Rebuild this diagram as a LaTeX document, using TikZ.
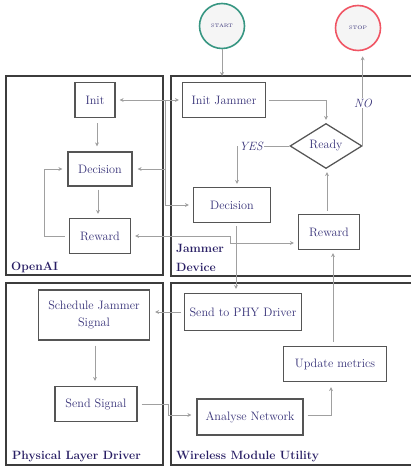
\documentclass[tikz,border=0pt]{standalone}
\usetikzlibrary{shapes.geometric,arrows.meta}
\definecolor{boxc}{RGB}{85,85,85}
\definecolor{framec}{RGB}{60,60,60}
\definecolor{linec}{RGB}{160,160,160}
\definecolor{txt}{RGB}{55,50,120}
\definecolor{lblc}{RGB}{40,30,100}
\definecolor{startc}{RGB}{55,150,130}
\definecolor{stopc}{RGB}{240,85,100}
\definecolor{circfill}{RGB}{245,245,245}
\begin{document}
\begin{tikzpicture}[x=1pt,y=-1pt,
  box/.style={draw=boxc, line width=1.25pt, minimum height=35pt, text=txt,
    font=\fontsize{12.2}{14}\selectfont, inner sep=0pt, align=center},
  frame/.style={draw=framec, line width=1.6pt},
  conn/.style={draw=linec, line width=0.9pt, -{Stealth[length=4pt,width=4pt]}},
  both/.style={{Stealth[length=4pt,width=4pt]}-{Stealth[length=4pt,width=4pt]}},
  term/.style={circle, line width=1.6pt, fill=circfill, minimum size=45pt, inner sep=0pt,
    text=txt, font=\fontsize{5}{6}\selectfont},
  grp/.style={anchor=base west, text=lblc, font=\fontsize{12}{14}\selectfont\bfseries, inner sep=0pt},
  cond/.style={fill=white, inner sep=1pt, text=txt, font=\fontsize{12}{14}\selectfont\itshape}
]
\useasboundingbox (0,0) rectangle (411,470);

% frames
\draw[frame] (6,76) rectangle (163,275);
\draw[frame] (171,76) rectangle (425,276);
\draw[frame] (6,283) rectangle (163,465);
\draw[frame] (171,283) rectangle (425,465);

\node[grp] (lOpen) at (11,270) {OpenAI};
\node[grp] (lJam) at (176,252) {Jammer};
\node[grp] (lDev) at (176,271) {Device};
\node[grp] (lPhy) at (12,459) {Physical Layer Driver};
\node[grp] (lWir) at (176,459) {Wireless Module Utility};

% terminals
\node[term, draw=startc] (START) at (222,26) {START};
\node[term, draw=stopc] (STOP) at (358,28) {STOP};

% boxes
\node[box, minimum width=40pt] (Init) at (95,100) {Init};
\node[box, minimum width=83pt] (InitJ) at (224,100) {Init Jammer};
\node[box, shape=diamond, aspect=1.6, minimum width=72pt, minimum height=45pt] (Ready) at (326,146) {Ready};
\node[box, minimum width=64pt, minimum height=34pt] (DecO) at (100,169) {Decision};
\node[box, minimum width=61pt] (RewO) at (100,236) {Reward};
\node[box, minimum width=77pt] (DecJ) at (232,205) {Decision};
\node[box, minimum width=61pt] (RewJ) at (329,232) {Reward};
\node[box, minimum width=111pt, minimum height=50pt] (Sched) at (94,315) {Schedule Jammer\\[3pt]Signal};
\node[box, minimum width=82pt] (SendSig) at (96,404) {Send Signal};
\node[box, minimum width=117pt, minimum height=37pt] (SendPHY) at (243,312) {Send to PHY Driver};
\node[box, minimum width=103pt] (Update) at (335,364) {Update metrics};
\node[box, minimum width=106pt, minimum height=36pt] (Analyse) at (250,417) {Analyse Network};

\coordinate (jtop) at (222,76);
\coordinate (jx) at (165,100);

% connectors
\draw[conn] (START.south) -- (jtop);
\draw[conn, both, shorten <=4pt, shorten >=3pt] (Init.east) -- (InitJ.west);
\draw[draw=linec, line width=0.9pt] (jx) -- (jx |- DecO.east);
\draw[conn, shorten >=5pt] (jx |- DecO.east) -- (DecO.east);
\draw[conn, shorten >=4pt] (jx |- DecO.east) |- (DecJ.west);
\draw[conn, shorten <=5pt, shorten >=5pt] ([xshift=2pt]Init.south) -- ([xshift=2pt]Init.south |- DecO.north);
\draw[conn, shorten <=3pt, shorten >=4pt] ([xshift=-2pt]DecO.south) -- ([xshift=-2pt]DecO.south |- RewO.north);
\draw[conn, shorten <=4pt, shorten >=5pt] (RewO.west) -- ++(-24.5,0) |- (DecO.west);
\draw[conn, shorten <=3pt, shorten >=3pt] (InitJ.east) -| (Ready.north);
\draw[conn, shorten >=5pt] (Ready.east) -- (Ready.east |- STOP.south);
\node[cond] (NO) at (363,103) {NO};
\draw[conn, shorten >=3pt] (Ready.west) -| ([xshift=5pt]DecJ.north);
\node[cond] (YES) at (251,146) {YES};
\draw[conn, shorten <=3pt, shorten >=3pt] ([xshift=-2pt]RewJ.north) -- ([xshift=-2pt]RewJ.north |- Ready.south);
\draw[conn, both, shorten <=4pt, shorten >=4pt] (RewO.east) -- (230,236) |- ([yshift=-11pt]RewJ.west);
\draw[conn, shorten <=3pt, shorten >=4pt] ([xshift=4pt]DecJ.south) -- ([xshift=4pt]DecJ.south |- SendPHY.north);
\draw[conn, shorten <=3pt, shorten >=5pt] (SendPHY.west) -- (SendPHY.west -| Sched.east);
\draw[conn, shorten <=5pt, shorten >=5pt] ([xshift=1pt]Sched.south) -- ([xshift=1pt]Sched.south |- SendSig.north);
\draw[conn, shorten <=4pt, shorten >=5pt] (SendSig.east) -- (168,404) |- ([yshift=2pt]Analyse.west);
\draw[conn, shorten <=4pt, shorten >=5pt] ([yshift=2pt]Analyse.east) -| ([xshift=-4pt]Update.south);
\draw[conn, shorten <=4pt, shorten >=3pt] ([xshift=-2pt]Update.north) -- ([xshift=-2pt]Update.north |- RewJ.south);
\end{tikzpicture}
\end{document}
